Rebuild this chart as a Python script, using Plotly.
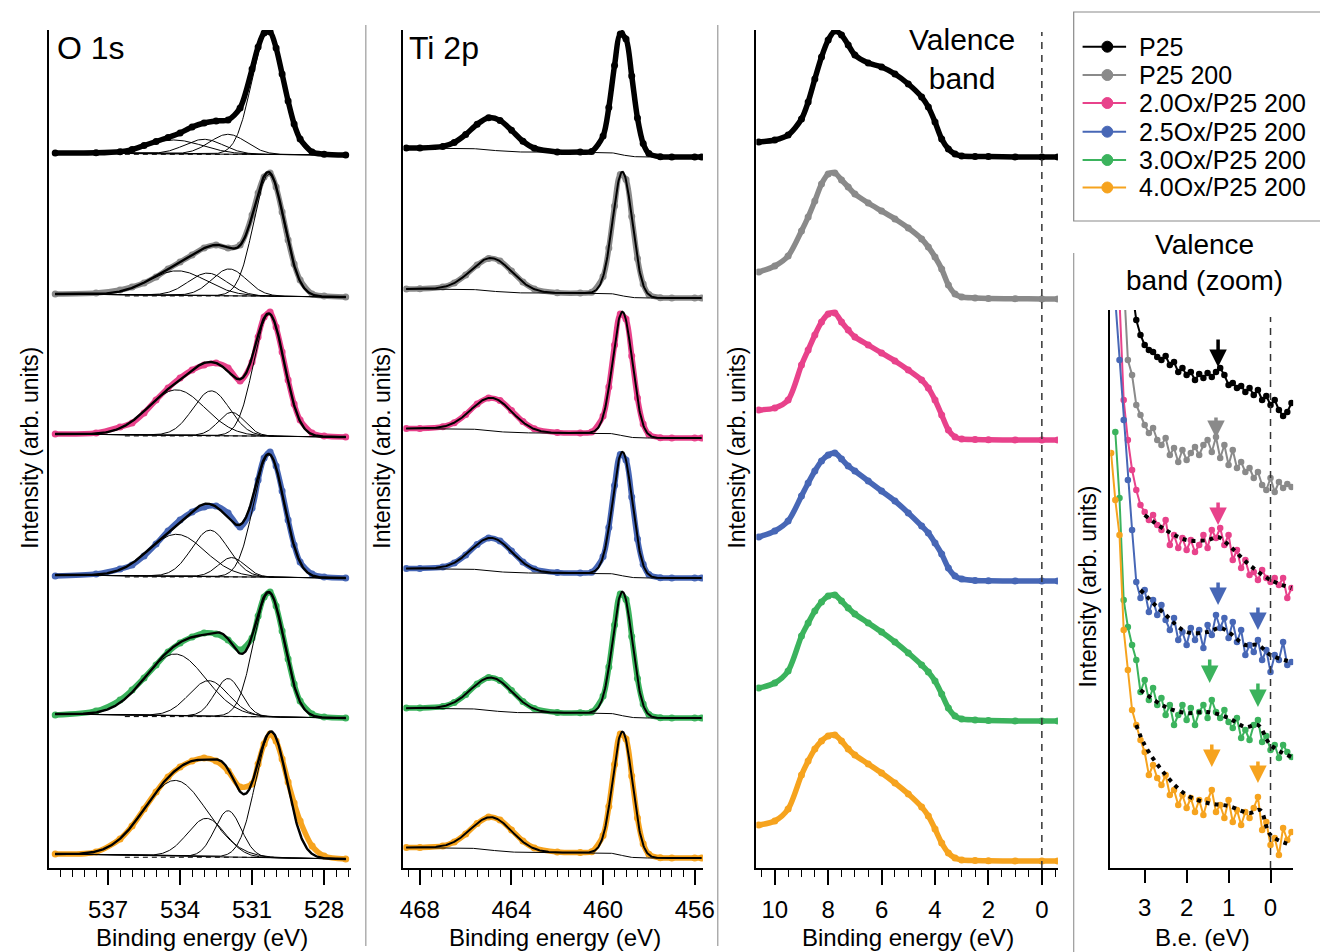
import itertools
import numpy as np
import plotly.graph_objects as go

W, H = 1320, 952
FONT = "Liberation Sans, Arial, sans-serif"

SAMPLES = ["P25", "P25 200", "2.0Ox/P25 200", "2.5Ox/P25 200", "3.0Ox/P25 200", "4.0Ox/P25 200"]
COLORS = ["#000000", "#8a8a8a", "#e8428b", "#4767b6", "#3bb35d", "#f6a31e"]

# ---------------- O 1s (binding energy, eV ; intensity above baseline, arb.) -------------
O1S_E = [539.2, 537.5, 536.5, 536.0, 535.5, 535.0, 534.5, 534.0, 533.5, 533.0, 532.5, 532.0,
         531.5, 531.0, 530.75, 530.5, 530.25, 530.0, 529.75, 529.5, 529.25, 529.0, 528.5, 528.0, 527.1]
O1S_P25 = [2, 2.2, 3.3, 5.4, 9.5, 13.5, 17.5, 22, 28, 32, 34, 35, 47, 86, 108, 122, 123, 107, 81, 54, 31, 16, 3, 0.8, 0]
O1S_P25_200 = [3, 4, 7, 10, 14, 20, 28, 35, 42, 49, 52, 49, 52, 82, 104, 120, 124, 110, 85, 57, 33, 17, 3, 1, 0]
O1S_20OX = [3, 4, 10, 14, 24, 37, 49, 59, 67, 72, 74, 69, 56, 75, 100, 120, 125, 110, 85, 57, 33, 17, 4, 1, 0]
O1S_25OX = [2, 4, 9, 13, 22, 34, 47, 58, 66, 71, 72, 65, 51, 70, 98, 120, 126, 112, 87, 58, 33, 16, 4, 1, 0]
O1S_30OX = [3, 7, 18, 28, 40, 53, 66, 75, 81, 85, 84, 78, 68, 80, 102, 121, 126, 112, 87, 59, 34, 17, 4, 1, 0]
O1S_40OX = [5, 7, 20, 33, 50, 67, 82, 92, 98, 101, 98, 88, 72, 75, 95, 115, 125, 118, 100, 77, 56, 38, 13, 3, 0]
O1S_DATA = [O1S_P25, O1S_P25_200, O1S_20OX, O1S_25OX, O1S_30OX, O1S_40OX]

# starting guesses of the fit components (centre eV, FWHM eV); refined against the data below
O1S_COMPONENTS = [
    [(534.25, 2.8), (533.0, 1.6), (531.85, 1.6), (530.35, 1.55)],
    [(534.1, 2.8), (532.85, 1.7), (531.8, 1.6), (530.3, 1.5)],
    [(534.15, 2.8), (532.7, 1.8), (531.7, 1.5), (530.3, 1.5)],
    [(534.15, 2.8), (532.75, 1.8), (531.7, 1.5), (530.3, 1.5)],
    [(534.2, 3.0), (532.8, 1.65), (531.85, 1.5), (530.3, 1.5)],
    [(534.2, 3.1), (532.9, 1.65), (532.0, 1.5), (530.2, 1.55)],
]
O1S_BG_LEFT = [2, 3, 3, 3, 4, 5]

# ---------------- Ti 2p -------------
TI_E = [468.6, 468.0, 467.0, 466.5, 466.0, 465.5, 465.0, 464.5, 464.0, 463.5, 463.0, 462.0, 461.0,
        460.5, 460.0, 459.75, 459.5, 459.25, 459.0, 458.75, 458.5, 458.25, 458.0, 457.5, 457.0, 456.0, 455.7]
TI_P25 = [9, 9, 10.6, 14.5, 22.5, 32.8, 39.3, 36.6, 26.7, 15.8, 8.8, 5.1, 4.9, 5.6, 21, 49.6, 91.6, 123, 118, 81, 39, 13.5, 3.4, 0.2, 0, 0, 0]
TI_P25_200 = [9, 9.2, 11, 15, 23, 33, 39.5, 37, 27, 16, 9, 5.3, 5, 5.8, 21.5, 50, 92, 123.5, 118.5, 81.5, 39.5, 14, 3.6, 0.3, 0, 0, 0]
TI_20OX = [9.5, 9.5, 11.2, 15.2, 23.5, 34, 40, 37.5, 27.5, 16.5, 9.3, 5.5, 5.1, 6, 22, 51, 93, 124, 119, 82, 40, 14, 3.6, 0.3, 0, 0, 0]
TI_25OX = [9.5, 9.6, 11, 15, 23, 33.5, 40, 37, 27, 16, 9, 5.4, 5, 5.8, 21.5, 50.5, 92.5, 123.5, 118, 81, 39, 13.8, 3.5, 0.2, 0, 0, 0]
TI_30OX = [10, 10, 11.5, 15.5, 23.5, 34, 40.5, 37.5, 27.5, 16.5, 9.5, 5.6, 5.2, 6, 22, 51, 93, 124, 118.5, 81.5, 39.5, 14, 3.6, 0.3, 0, 0, 0]
TI_40OX = [10.5, 10.5, 12, 16, 24, 34.5, 41, 38, 28, 17, 10, 6, 5.5, 6.3, 22.5, 51.5, 93.5, 124, 119, 82, 40, 14.2, 3.7, 0.3, 0, 0, 0]
TI_DATA = [TI_P25, TI_P25_200, TI_20OX, TI_25OX, TI_30OX, TI_40OX]
TI_FIT = [(459.15, 124, 1.0), (464.85, 33, 2.1)]
TI_BG_STEPS = [(4.8, 4.2), (4.9, 4.2), (5.0, 4.5), (4.9, 4.5), (5.1, 4.7), (5.4, 5.0)]

# ---------------- Valence band -------------
VB_E = [10.6, 10.0, 9.5, 9.0, 8.75, 8.5, 8.25, 8.0, 7.75, 7.5, 7.25, 7.0, 6.5, 6.0, 5.5, 5.0, 4.5,
        4.25, 4.0, 3.75, 3.5, 3.25, 3.0, 2.5, 2.0, 1.0, 0.0, -0.6]
VB_P25 = [15, 17, 22, 38, 55, 78, 100, 117, 126, 122, 112, 102, 94, 90, 83, 73, 60, 50, 35, 18, 8, 3, 1, 0.5, 0.5, 0, 0, 0]
VB_P25_200 = [27, 33, 43, 68, 82, 98, 115, 125, 126, 119, 112, 105, 96, 88, 80, 71, 60, 52, 42, 30, 14, 5, 2, 1, 0.5, 0.3, 0, 0]
VB_20OX = [30, 32, 40, 75, 90, 105, 118, 126, 127, 118, 110, 103, 95, 87, 79, 70, 60, 52, 40, 25, 10, 3, 1, 0.5, 0.3, 0, 0, 0]
VB_25OX = [44, 50, 60, 85, 98, 110, 120, 126, 128, 122, 115, 110, 100, 90, 80, 68, 55, 48, 38, 27, 13, 5, 2, 0.5, 0.3, 0, 0, 0]
VB_30OX = [33, 38, 50, 85, 98, 110, 119, 125, 126, 120, 113, 107, 98, 89, 79, 68, 56, 49, 40, 27, 13, 5, 2, 1, 0.5, 0, 0, 0]
VB_40OX = [36, 40, 52, 86, 100, 112, 120, 125, 126, 120, 112, 106, 97, 88, 78, 67, 54, 45, 32, 18, 8, 3, 1, 0.5, 0.3, 0, 0, 0]
VB_DATA = [VB_P25, VB_P25_200, VB_20OX, VB_25OX, VB_30OX, VB_40OX]

# ---------------- Valence band (zoom) -------------
ZOOM_E = [3.8, 3.7, 3.6, 3.5, 3.4, 3.3, 3.2, 3.1, 3.0, 2.9, 2.8, 2.7, 2.6, 2.5, 2.4, 2.3, 2.2, 2.1,
          2.0, 1.9, 1.8, 1.7, 1.6, 1.5, 1.4, 1.3, 1.2, 1.1, 1.0, 0.9, 0.8, 0.7, 0.6, 0.5, 0.4, 0.3,
          0.2, 0.1, 0.0, -0.1, -0.2, -0.3, -0.4, -0.5]
ZOOM_P25 = [578, 548, 533, 523, 518, 516, 511, 508, 512, 503, 506, 496, 500, 493, 496, 488, 494, 490, 495, 491,
            496, 500, 493, 483, 485, 480, 482, 476, 480, 473, 478, 468, 472, 463, 468, 458, 452, 456, 465]
ZOOM_P25_200 = [588, 508, 493, 463, 453, 443, 435, 440, 428, 423, 430, 413, 420, 406, 418, 408, 415, 421, 413, 423,
                428, 416, 431, 410, 423, 403, 418, 400, 406, 396, 400, 390, 396, 383, 378, 390, 376, 386, 380, 384, 381]
ZOOM_20OX = [568, 468, 428, 398, 378, 363, 356, 348, 353, 343, 338, 348, 323, 333, 320, 330, 318, 328, 316, 323,
             333, 320, 338, 330, 340, 323, 333, 308, 318, 300, 308, 293, 296, 288, 298, 290, 286, 290, 283, 290, 270, 280]
ZOOM_25OX = [568, 508, 448, 388, 338, 286, 270, 278, 256, 268, 253, 263, 248, 238, 250, 228, 236, 223, 240, 228,
             238, 220, 243, 233, 253, 240, 250, 230, 246, 226, 238, 213, 223, 216, 228, 208, 218, 196, 213, 208,
             226, 203, 206]
ZOOM_30OX = [436, 370, 268, 241, 223, 208, 176, 188, 168, 180, 163, 170, 153, 163, 143, 153, 163, 148, 160, 143,
             156, 163, 150, 168, 156, 150, 158, 146, 140, 150, 130, 138, 128, 143, 148, 126, 132, 118, 123, 110,
             123, 116, 111]
ZOOM_40OX = [415, 368, 333, 238, 198, 158, 143, 128, 116, 93, 103, 90, 83, 93, 73, 78, 63, 73, 60, 70,
             56, 68, 53, 68, 78, 56, 63, 50, 68, 46, 58, 43, 56, 50, 60, 71, 38, 46, 23, 30,
             13, 40, 28, 36]
ZOOM_DATA = [ZOOM_P25, ZOOM_P25_200, ZOOM_20OX, ZOOM_25OX, ZOOM_30OX, ZOOM_40OX]

SMOOTH_E = {2: [3.0, 2.5, 2.0, 1.5, 1.25, 1.0, 0.5, 0.0, -0.5],
            3: [3.1, 2.5, 2.0, 1.5, 1.2, 1.0, 0.6, 0.3, 0.0, -0.5],
            4: [3.1, 2.5, 2.0, 1.5, 1.0, 0.6, 0.3, 0.0, -0.5],
            5: [3.2, 3.0, 2.5, 2.0, 1.5, 1.0, 0.5, 0.25, 0.0, -0.5]}
SMOOTH_I = {2: [353, 338, 328, 328, 331, 323, 303, 288, 280],
            3: [278, 253, 236, 236, 240, 236, 223, 223, 213, 206],
            4: [178, 161, 155, 156, 150, 141, 143, 123, 111],
            5: [143, 123, 93, 73, 65, 62, 55, 58, 33, 23]}

ARROWS = [(0, 1.25, 501, 530), (1, 1.3, 430, 452), (2, 1.25, 343, 367),
          (3, 1.25, 263, 287), (3, 0.3, 238, 262), (4, 1.45, 185, 210), (4, 0.3, 161, 186),
          (5, 1.4, 101, 125), (5, 0.3, 85, 108)]

O1S_OFFSET = [713, 571, 431, 290, 150, 9]
TI_OFFSET = [711, 570, 430, 290, 150, 10]
VB_OFFSET = [711, 569, 428, 287, 147, 7]


def px(x):
    return x / W


def py(y):
    return 1 - y / H


def gauss(e, c, h, f):
    return h * np.exp(-4 * np.log(2) * ((np.asarray(e) - c) / f) ** 2)


def fit_o1s(e_pts, y, comps):
    """Small grid refinement of C2/C3 width and C3 position, heights by least squares."""
    best = None
    for dw2, dw3, dc3 in itertools.product([-0.2, -0.1, 0, 0.1, 0.2, 0.3], [-0.2, -0.1, 0, 0.1, 0.2],
                                           [-0.15, 0, 0.15]):
        cs = [comps[0], (comps[1][0], comps[1][1] + dw2), (comps[2][0] + dc3, comps[2][1] + dw3), comps[3]]
        A = np.column_stack([gauss(e_pts, cc, 1.0, ff) for (cc, ff) in cs])
        h, *_ = np.linalg.lstsq(A, y, rcond=None)
        if np.any(h < 0):
            continue
        r = np.sum((A @ h - y) ** 2)
        if best is None or r < best[0]:
            best = (r, cs, h)
    return best[1], best[2]


fig = go.Figure()
NOHOVER = dict(showlegend=False, hoverinfo="skip")
DATA_LINE = dict(width=5.5, shape="spline", smoothing=0.8)

# ---- O 1s panel
e_pts = np.array(O1S_E)
ef = np.linspace(O1S_E[0], O1S_E[-1], 500)
for i in range(6):
    off = O1S_OFFSET[i]
    c = COLORS[i]
    data = np.array(O1S_DATA[i], dtype=float)
    fig.add_trace(go.Scatter(x=O1S_E, y=data + off, mode="lines+markers",
                             line=dict(color=c, **DATA_LINE),
                             marker=dict(size=7, color=c), xaxis="x", yaxis="y", **NOHOVER))

    def linbg(e):
        return O1S_BG_LEFT[i] * (np.asarray(e) - O1S_E[-1]) / (O1S_E[0] - O1S_E[-1])

    comps, heights = fit_o1s(e_pts, data - linbg(e_pts), O1S_COMPONENTS[i])
    bg = linbg(ef)
    env = bg.copy()
    for (cc, ff), hh in zip(comps, heights):
        comp = gauss(ef, cc, hh, ff)
        env = env + comp
        fig.add_trace(go.Scatter(x=ef, y=bg + comp + off, mode="lines",
                                 line=dict(color="black", width=1), xaxis="x", yaxis="y", **NOHOVER))
    fig.add_trace(go.Scatter(x=ef, y=bg + off, mode="lines", line=dict(color="black", width=1),
                             xaxis="x", yaxis="y", **NOHOVER))
    lvl = off + 0.35 * O1S_BG_LEFT[i]
    fig.add_trace(go.Scatter(x=[536.3, 530.1], y=[lvl, lvl], mode="lines",
                             line=dict(color="black", width=1, dash="5px,4px"), xaxis="x", yaxis="y", **NOHOVER))
    fig.add_trace(go.Scatter(x=ef, y=env + off, mode="lines", line=dict(color="black", width=2.4),
                             xaxis="x", yaxis="y", **NOHOVER))

# ---- Ti 2p panel
ef2 = np.linspace(TI_E[0], TI_E[-1], 500)
for i in range(6):
    off = TI_OFFSET[i]
    c = COLORS[i]
    fig.add_trace(go.Scatter(x=TI_E, y=np.array(TI_DATA[i]) + off, mode="lines+markers",
                             line=dict(color=c, **DATA_LINE),
                             marker=dict(size=7, color=c), xaxis="x2", yaxis="y2", **NOHOVER))
    a1, a2 = TI_BG_STEPS[i]
    bg = a1 * 0.5 * (1 + np.tanh((ef2 - 459.2) / 0.45)) + a2 * 0.5 * (1 + np.tanh((ef2 - 464.9) / 0.9))
    env = bg + sum(gauss(ef2, *p) for p in TI_FIT)
    fig.add_trace(go.Scatter(x=ef2, y=bg + off, mode="lines", line=dict(color="black", width=1),
                             xaxis="x2", yaxis="y2", **NOHOVER))
    fig.add_trace(go.Scatter(x=ef2, y=env + off, mode="lines", line=dict(color="black", width=2),
                             xaxis="x2", yaxis="y2", **NOHOVER))

# ---- Valence band panel
for i in range(6):
    c = COLORS[i]
    fig.add_trace(go.Scatter(x=VB_E, y=np.array(VB_DATA[i]) + VB_OFFSET[i], mode="lines+markers",
                             line=dict(color=c, **DATA_LINE),
                             marker=dict(size=7, color=c), xaxis="x3", yaxis="y3", **NOHOVER))

# ---- Zoom panel
for i in range(6):
    c = COLORS[i]
    vals = ZOOM_DATA[i]
    fig.add_trace(go.Scatter(x=ZOOM_E[len(ZOOM_E) - len(vals):], y=vals, mode="lines+markers",
                             line=dict(color=c, width=2), marker=dict(size=6.5, color=c),
                             xaxis="x4", yaxis="y4", **NOHOVER))
for i in SMOOTH_E:
    fig.add_trace(go.Scatter(x=SMOOTH_E[i], y=SMOOTH_I[i], mode="lines",
                             line=dict(color="black", width=4, dash="4px,5px", shape="spline"),
                             xaxis="x4", yaxis="y4", **NOHOVER))

annotations = []
for (i, e, tip, tail) in ARROWS:
    annotations.append(dict(x=e, y=tip, ax=e, ay=tail, xref="x4", yref="y4", axref="x4", ayref="y4",
                            text="", showarrow=True, arrowhead=2, arrowsize=1.0, arrowwidth=3.5,
                            arrowcolor=COLORS[i]))


def xaxis_cfg(x0, x1, rng, dtick, tick0, minor, anchor, ticklen=15):
    d = dict(domain=[px(x0), px(x1)], range=rng, showline=True, linecolor="black", linewidth=1.5,
             ticks="outside", ticklen=ticklen, tickwidth=1.5, tickcolor="black", dtick=dtick, tick0=tick0,
             showgrid=False, zeroline=False, anchor=anchor, ticklabelstandoff=4,
             tickfont=dict(size=24, color="black", family=FONT))
    if minor:
        d["minor"] = dict(dtick=minor, tick0=tick0, ticks="outside", ticklen=7, tickwidth=1.2,
                          tickcolor="black", showgrid=False)
    return d


def yaxis_cfg(y0, y1, rng, anchor):
    return dict(domain=[py(y1), py(y0)], range=rng, showline=True, linecolor="black", linewidth=1.5,
                showticklabels=False, ticks="", showgrid=False, zeroline=False, anchor=anchor)


layout = dict(
    width=W, height=H, autosize=False, margin=dict(l=0, r=0, t=0, b=0),
    paper_bgcolor="white", plot_bgcolor="white",
    font=dict(family=FONT, color="black"), showlegend=False,
    xaxis=xaxis_cfg(47, 352, [539.44, 526.88], 3, 528, 0.5, "y"),
    yaxis=yaxis_cfg(30, 868, [0, 838], "x"),
    xaxis2=xaxis_cfg(405, 708, [468.72, 455.64], 4, 456, 0.5, "y2"),
    yaxis2=yaxis_cfg(30, 868, [0, 838], "x2"),
    xaxis3=xaxis_cfg(762, 1067, [10.69, -0.6], 2, 0, 0.5, "y3"),
    yaxis3=yaxis_cfg(30, 868, [0, 838], "x3"),
    xaxis4=xaxis_cfg(1120, 1305, [3.82, -0.54], 1, 0, None, "y4", ticklen=13),
    yaxis4=yaxis_cfg(310, 868, [0, 558], "x4"),
)

shapes = []
for (x, y0, y1) in [(367, 25, 946), (723, 25, 946), (1083, 253, 952)]:
    shapes.append(dict(type="line", xref="paper", yref="paper", x0=px(x), x1=px(x), y0=py(y0), y1=py(y1),
                       line=dict(color="#9a9a9a", width=1.2)))
shapes.append(dict(type="line", xref="x3", yref="paper", x0=0, x1=0, y0=py(868), y1=py(32),
                   line=dict(color="#333333", width=1.5, dash="7px,6px")))
shapes.append(dict(type="line", xref="x4", yref="paper", x0=0, x1=0, y0=py(868), y1=py(317),
                   line=dict(color="#333333", width=1.5, dash="7px,6px")))
shapes.append(dict(type="rect", xref="paper", yref="paper", x0=px(1083), x1=px(1335), y0=py(221), y1=py(12),
                   line=dict(color="#8a8a8a", width=1.2), fillcolor="rgba(0,0,0,0)"))
LEG_Y = [46.7, 75, 103, 131.7, 160, 187.5]
for i, yy in enumerate(LEG_Y):
    shapes.append(dict(type="line", xref="paper", yref="paper", x0=px(1092), x1=px(1136), y0=py(yy), y1=py(yy),
                       line=dict(color=COLORS[i], width=2)))
    shapes.append(dict(type="circle", xref="paper", yref="paper", x0=px(1111.5), x1=px(1122.5),
                       y0=py(yy + 5.5), y1=py(yy - 5.5), line=dict(color=COLORS[i], width=1),
                       fillcolor=COLORS[i]))
    annotations.append(dict(x=px(1147), y=py(yy), xref="paper", yref="paper", text=SAMPLES[i],
                            showarrow=False, xanchor="left", yanchor="middle",
                            font=dict(size=25)))

annotations += [
    dict(x=px(53), y=py(48), text="O 1s", xanchor="left", yanchor="middle", font=dict(size=32)),
    dict(x=px(409), y=py(48), text="Ti 2p", xanchor="left", yanchor="middle", font=dict(size=32)),
    dict(x=px(970), y=py(59), text="Valence<br>band", xanchor="center", yanchor="middle", font=dict(size=30)),
    dict(x=px(1215), y=py(262), text="Valence<br>band (zoom)", xanchor="center", yanchor="middle",
         font=dict(size=28)),
]
for (x, t) in [(201, "Binding energy (eV)"), (558, "Binding energy (eV)"), (915, "Binding energy (eV)"),
               (1213, "B.e. (eV)")]:
    annotations.append(dict(x=px(x), y=py(937), text=t, xanchor="center", yanchor="middle", font=dict(size=24)))
for (x, y) in [(27, 448), (383, 448), (742, 448), (1097, 587)]:
    annotations.append(dict(x=px(x), y=py(y), text="Intensity (arb. units)", textangle=-90,
                            xanchor="center", yanchor="middle", font=dict(size=23)))
for a in annotations:
    if "xref" not in a:
        a.update(xref="paper", yref="paper", showarrow=False)
    size = a.get("font", {}).get("size", 24)
    a["font"] = dict(family=FONT, color="black", size=size)

layout["shapes"] = shapes
layout["annotations"] = annotations
fig.update_layout(**layout)

# remove the default 8px page margin so the 1320x952 figure fills the window exactly
POST = """
(function(){
  function fix(){
    document.documentElement.style.cssText = 'margin:0;padding:0;overflow:hidden;';
    document.body.style.cssText = 'margin:0;padding:0;overflow:hidden;';
  }
  fix();
  window.addEventListener('load', fix);
})();
"""
fig.write_html("out.html", config={"displayModeBar": False}, post_script=POST)
